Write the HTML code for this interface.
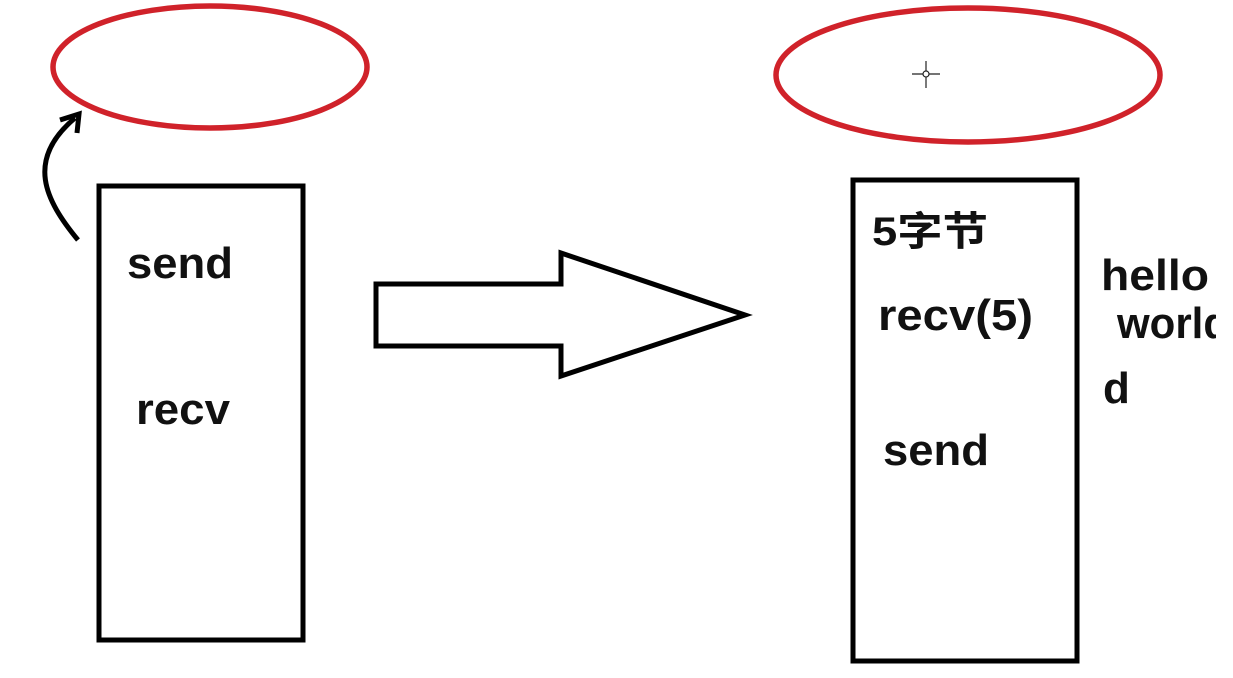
<!DOCTYPE html>
<html><head><meta charset="utf-8"><style>
html,body{margin:0;padding:0;background:#fff;}
svg{display:block;}
text{font-family:"Liberation Sans","Noto Sans CJK SC",sans-serif;font-weight:bold;fill:#111;}
</style></head><body>
<svg width="1233" height="678" viewBox="0 0 1233 678">
<defs><clipPath id="c"><rect x="0" y="0" width="1216" height="678"/></clipPath></defs>
<ellipse cx="210" cy="67" rx="157" ry="61" fill="none" stroke="#d0222a" stroke-width="5.5"/>
<ellipse cx="968" cy="75" rx="192" ry="67" fill="none" stroke="#d0222a" stroke-width="5.5"/>
<g stroke="#222" stroke-width="1.2" fill="none">
<line x1="912" y1="74" x2="940" y2="74"/><line x1="926" y1="61" x2="926" y2="88"/><circle cx="926" cy="74" r="3" fill="#fff"/>
</g>
<path d="M78 240 C 45 200, 25 160, 75 118" fill="none" stroke="#000" stroke-width="5"/>
<path d="M60 120 L79 114 L77 133" fill="none" stroke="#000" stroke-width="5"/>
<rect x="99" y="186" width="204" height="454" fill="none" stroke="#000" stroke-width="5"/>
<rect x="853" y="180" width="224" height="481" fill="none" stroke="#000" stroke-width="5"/>
<path d="M376 284 L561 284 L561 253 L745 315 L561 376 L561 346 L376 346 Z" fill="none" stroke="#000" stroke-width="5" stroke-linejoin="miter"/>
<text x="127" y="278" font-size="44" textLength="106" lengthAdjust="spacingAndGlyphs">send</text>
<text x="136" y="424" font-size="44" textLength="94" lengthAdjust="spacingAndGlyphs">recv</text>
<text x="872" y="245" font-size="40" textLength="116" lengthAdjust="spacingAndGlyphs">5字节</text>
<text x="878" y="330" font-size="44" textLength="155" lengthAdjust="spacingAndGlyphs">recv(5)</text>
<text x="883" y="465" font-size="44" textLength="106" lengthAdjust="spacingAndGlyphs">send</text>
<text x="1101" y="290" font-size="44" textLength="108" lengthAdjust="spacingAndGlyphs">hello</text>
<g clip-path="url(#c)"><text x="1117" y="338" font-size="44" textLength="112" lengthAdjust="spacingAndGlyphs">world</text></g>
<text x="1103" y="403" font-size="44">d</text>
</svg>
</body></html>
